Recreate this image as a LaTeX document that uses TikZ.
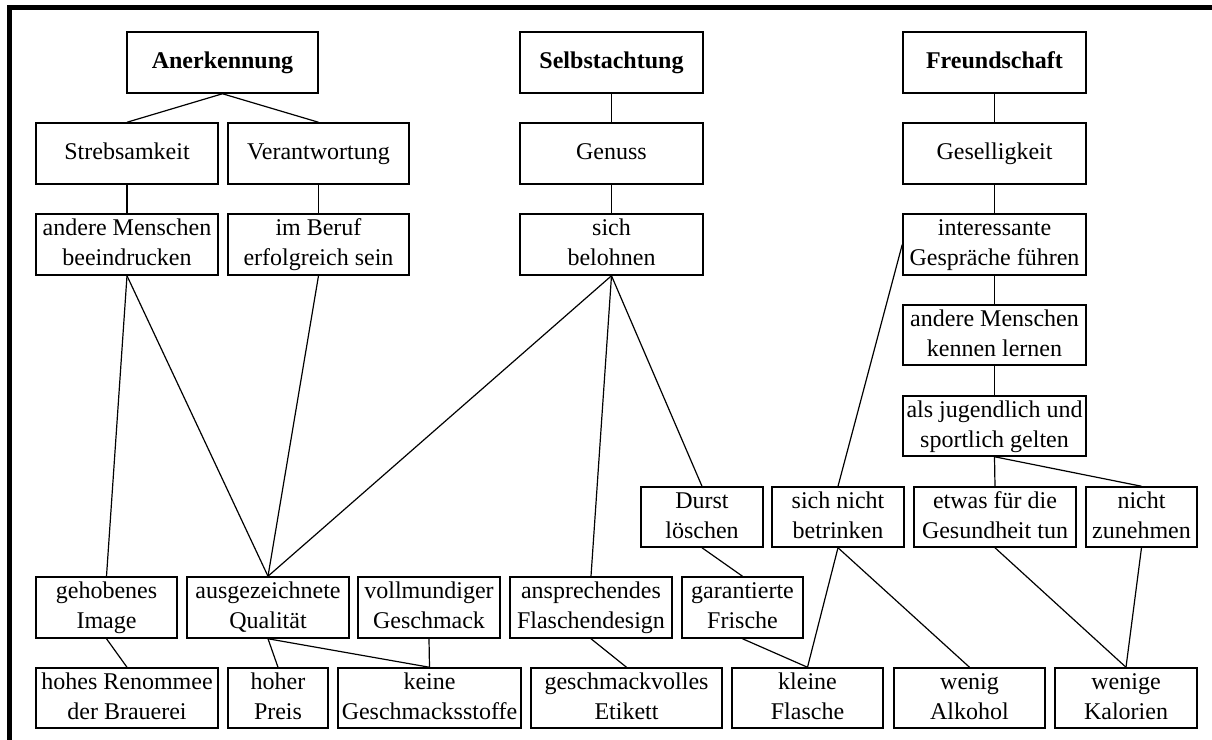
\documentclass[tikz,border=0pt]{standalone}
\usepackage{fontspec}
\setmainfont{Liberation Serif}
% box given by its corners: style, name, x1, y1, x2, y2, text
\newcommand\placebox[7]{%
  \node[#1, minimum width={(#5-#3)*0.5pt}, minimum height={(#6-#4)*0.5pt}]
    (#2) at ({(#3+#5)/2},{(#4+#6)/2}) {\strut #7\strut};}
\begin{document}
\begin{tikzpicture}[x=0.5pt,y=-0.5pt,
  box/.style={draw, line width=0.75pt, inner sep=0pt, align=center,
    font=\fontsize{12}{15}\selectfont},
  head/.style={box, font=\fontsize{12}{15}\selectfont\bfseries},
  link/.style={line width=0.6pt}]
\useasboundingbox (0,0) rectangle (1212,740);
% frame bars along top and left
\fill (7,5) rectangle (1212,10);
\fill (7,5) rectangle (12,740);

% top values
\placebox{head}{anerk}{127}{32}{318}{93}{Anerkennung}
\placebox{head}{selbst}{520}{32}{703}{93}{Selbstachtung}
\placebox{head}{freund}{903}{32}{1086}{93}{Freundschaft}
% second row
\placebox{box}{streb}{36}{123}{218}{184}{Strebsamkeit}
\placebox{box}{verant}{228}{123}{409}{184}{Verantwortung}
\placebox{box}{genuss}{520}{123}{703}{184}{Genuss}
\placebox{box}{gesell}{903}{123}{1086}{184}{Geselligkeit}
% third row
\placebox{box}{beeind}{36}{214}{218}{275}{andere Menschen\\beeindrucken}
\placebox{box}{beruf}{228}{214}{409}{275}{im Beruf\\erfolgreich sein}
\placebox{box}{belohn}{520}{214}{703}{275}{sich\\belohnen}
\placebox{box}{gespr}{903}{214}{1086}{275}{interessante\\Gespräche führen}
% right column
\placebox{box}{kennen}{903}{305}{1086}{365}{andere Menschen\\kennen lernen}
\placebox{box}{jugend}{903}{396}{1086}{456}{als jugendlich und\\sportlich gelten}
% lower consequences
\placebox{box}{durst}{641}{487}{763}{547}{Durst\\löschen}
\placebox{box}{betrink}{772}{487}{904}{547}{sich nicht\\betrinken}
\placebox{box}{gesund}{914}{487}{1076}{547}{etwas für die\\Gesundheit tun}
\placebox{box}{zunehm}{1086}{487}{1197}{547}{nicht\\zunehmen}
% attributes
\placebox{box}{image}{36}{577}{177}{638}{gehobenes\\Image}
\placebox{box}{quali}{187}{577}{349}{638}{ausgezeichnete\\Qualität}
\placebox{box}{vollm}{358}{577}{500}{638}{vollmundiger\\Geschmack}
\placebox{box}{flasch}{510}{577}{672}{638}{ansprechendes\\Flaschendesign}
\placebox{box}{frische}{682}{577}{803}{638}{garantierte\\Frische}
% bottom row
\placebox{box}{renom}{36}{668}{218}{728}{hohes Renommee\\der Brauerei}
\placebox{box}{preis}{228}{668}{328}{728}{hoher\\Preis}
\placebox{box}{keine}{338}{668}{521}{728}{keine\\Geschmacksstoffe}
\placebox{box}{etikett}{531}{668}{722}{728}{geschmackvolles\\Etikett}
\placebox{box}{kleine}{732}{668}{883}{728}{kleine\\Flasche}
\placebox{box}{alkohol}{894}{668}{1045}{728}{wenig\\Alkohol}
\placebox{box}{kalorien}{1055}{668}{1197}{728}{wenige\\Kalorien}

% connectors
\begin{scope}[link]
\draw (anerk.south) -- (streb.north);
\draw (anerk.south) -- (verant.north);
\draw (streb) -- (beeind);
\draw (verant) -- (beruf);
\draw (selbst) -- (genuss);
\draw (genuss) -- (belohn);
\draw (freund) -- (gesell);
\draw (gesell) -- (gespr);
\draw (gespr) -- (kennen);
\draw (kennen) -- (jugend);

\draw (beeind.south) -- (image.north);
\draw (beeind.south) -- (quali.north);
\draw (beruf.south) -- (quali.north);
\draw (belohn.south) -- (quali.north);
\draw (belohn.south) -- (flasch.north);
\draw (belohn.south) -- (durst.north);
\draw (gespr.west) -- (betrink.north);
\draw (jugend.south) -- (gesund.north);
\draw (jugend.south) -- (zunehm.north);

\draw (betrink.south) -- (kleine.north);
\draw (betrink.south) -- (alkohol.north);
\draw (gesund.south) -- (kalorien.north);
\draw (zunehm.south) -- (kalorien.north);
\draw (durst.south) -- (frische.north);
\draw (frische.south) -- (kleine.north);
\draw (flasch.south) -- (etikett.north);
\draw (vollm.south) -- (keine.north);
\draw (quali.south) -- (keine.north);
\draw (quali.south) -- (preis.north);
\draw (image.south) -- (renom.north);
\end{scope}
\end{tikzpicture}
\end{document}
